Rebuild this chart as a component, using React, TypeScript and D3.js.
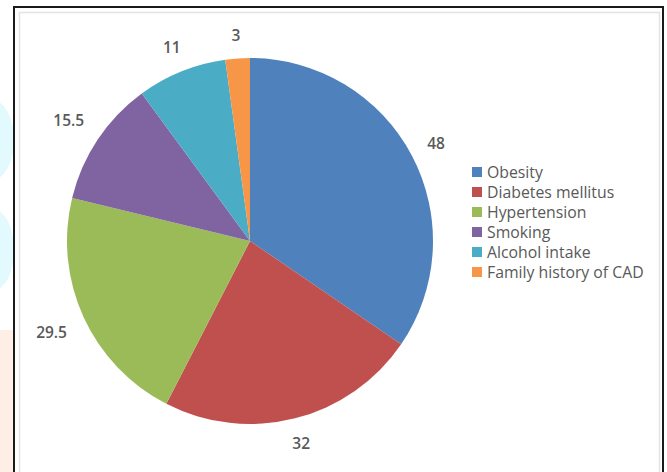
import React from "react";
import * as d3 from "d3";

const categories = ["Obesity", "Diabetes mellitus", "Hypertension", "Smoking", "Alcohol intake", "Family history of CAD"];
const values = [48, 32, 29.5, 15.5, 11, 3];
const labels = ["48", "32", "29.5", "15.5", "11", "3"];
const colors = ["#4F81BD", "#C0504D", "#9BBB59", "#8064A2", "#4BACC6", "#F79646"];

const W = 667;
const H = 472;
const cx = 250;
const cy = 241;
const R = 183;
const FONT = "'Open Sans', 'Liberation Sans', sans-serif";

export default function App() {
  const data = categories.map((c, i) => ({ c, v: values[i], label: labels[i], color: colors[i] }));
  const pie = d3.pie<any>().value((d: any) => d.v).sort(null).startAngle(0).endAngle(2 * Math.PI);
  const arcs = pie(data);
  const arcGen = d3.arc<any>().innerRadius(0).outerRadius(R);
  const fs = 15.5;
  return (
    <svg width={W} height={H} style={{ position: "absolute", left: 0, top: 0, background: "#fff" }}>
      {/* faint watermark on the left edge */}
      <ellipse cx={-8} cy={140} rx={22} ry={40} fill="#e2fafd" />
      <ellipse cx={-6} cy={250} rx={20} ry={40} fill="#e2fafd" />
      <rect x={0} y={330} width={14} height={142} fill="#fdefe6" />
      <rect x={14} y={7} width={649} height={480} fill="#fff" stroke="#1a1a1a" strokeWidth={2} />
      <rect x={19.5} y={12.5} width={640} height={470} fill="none" stroke="#e3e3e3" strokeWidth={1.5} />
      <g transform={`translate(${cx},${cy})`}>
        {arcs.map((a, i) => (
          <path key={i} d={arcGen(a) as string} fill={a.data.color} />
        ))}
        {arcs.map((a, i) => {
          const m = (a.startAngle + a.endAngle) / 2;
          const s = Math.sin(m);
          const c = -Math.cos(m);
          const hw = (a.data.label.length * fs * 0.56) / 2;
          const hh = 6;
          const d = R + 17 + Math.abs(s) * hw + Math.abs(c) * hh;
          return (
            <text key={i} x={d * s} y={d * c} textAnchor="middle" dominantBaseline="central"
              fontFamily={FONT} fontSize={fs} fontWeight={600} fill="#595959">
              {a.data.label}
            </text>
          );
        })}
      </g>
      <g transform="translate(472,172)">
        {data.map((d, i) => (
          <g key={i} transform={`translate(0,${i * 20})`}>
            <rect x={0} y={-5} width={10} height={10} fill={d.color} />
            <text x={15} y={0} dominantBaseline="central" fontFamily={FONT} fontSize={15.8} fill="#595959">
              {d.c}
            </text>
          </g>
        ))}
      </g>
    </svg>
  );
}
